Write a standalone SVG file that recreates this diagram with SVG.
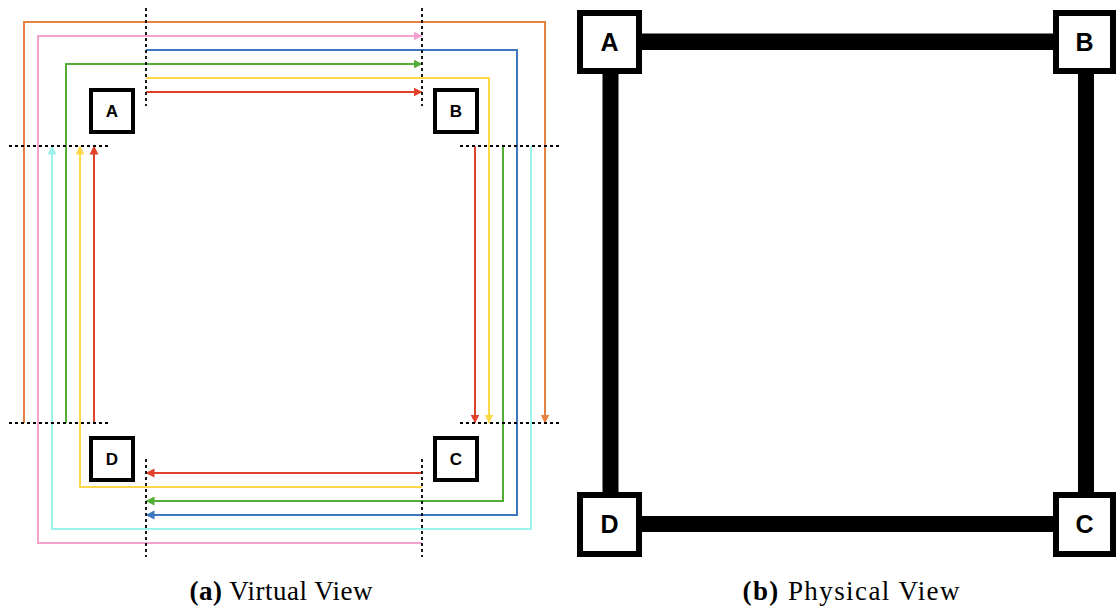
<svg xmlns="http://www.w3.org/2000/svg" width="1117" height="609" viewBox="0 0 1117 609">
  <style>
    .flow { fill: none; stroke-width: 2; }
    .cut { fill: none; stroke: #000; stroke-width: 1.8; stroke-dasharray: 3 3; }
    .vbox { fill: #fff; stroke: #000; stroke-width: 4; }
    .pbox { fill: #fff; stroke: #000; stroke-width: 6; }
    .vlbl { font-family: "Liberation Sans", Arial, sans-serif; font-weight: bold; font-size: 17px; text-anchor: middle; fill: #000; }
    .plbl { font-family: "Liberation Sans", Arial, sans-serif; font-weight: bold; font-size: 25px; text-anchor: middle; fill: #000; }
    .cap { font-family: "Liberation Serif", "Times New Roman", serif; font-size: 27px; text-anchor: middle; fill: #000; }
    .red { stroke: #E0412B; }
    .yel { stroke: #FDD94A; }
    .grn { stroke: #53AE36; }
    .blu { stroke: #3C77BD; }
    .cyn { stroke: #9CF4EA; }
    .org { stroke: #E7813F; }
    .pnk { stroke: #F3A1CE; }
  </style>
  <defs>
    <marker id="ah-red" markerUnits="userSpaceOnUse" markerWidth="10" markerHeight="10" refX="8.5" refY="4.5" orient="auto"><path d="M0,0 L9,4.5 L0,9 Z" fill="#E0412B"/></marker>
    <marker id="ah-yel" markerUnits="userSpaceOnUse" markerWidth="10" markerHeight="10" refX="8.5" refY="4.5" orient="auto"><path d="M0,0 L9,4.5 L0,9 Z" fill="#FDD94A"/></marker>
    <marker id="ah-grn" markerUnits="userSpaceOnUse" markerWidth="10" markerHeight="10" refX="8.5" refY="4.5" orient="auto"><path d="M0,0 L9,4.5 L0,9 Z" fill="#53AE36"/></marker>
    <marker id="ah-blu" markerUnits="userSpaceOnUse" markerWidth="10" markerHeight="10" refX="8.5" refY="4.5" orient="auto"><path d="M0,0 L9,4.5 L0,9 Z" fill="#3C77BD"/></marker>
    <marker id="ah-cyn" markerUnits="userSpaceOnUse" markerWidth="10" markerHeight="10" refX="8.5" refY="4.5" orient="auto"><path d="M0,0 L9,4.5 L0,9 Z" fill="#9CF4EA"/></marker>
    <marker id="ah-org" markerUnits="userSpaceOnUse" markerWidth="10" markerHeight="10" refX="8.5" refY="4.5" orient="auto"><path d="M0,0 L9,4.5 L0,9 Z" fill="#E7813F"/></marker>
    <marker id="ah-pnk" markerUnits="userSpaceOnUse" markerWidth="10" markerHeight="10" refX="8.5" refY="4.5" orient="auto"><path d="M0,0 L9,4.5 L0,9 Z" fill="#F3A1CE"/></marker>
  </defs>

  <rect width="1117" height="609" fill="#fff"/>

  <!-- (a) virtual view: routed flows between the four nodes -->
  <g id="connectors">
    <path class="flow red" d="M146,92 H422" marker-end="url(#ah-red)"/>
    <path class="flow red" d="M475,146 V423" marker-end="url(#ah-red)"/>
    <path class="flow red" d="M422,473 H146" marker-end="url(#ah-red)"/>
    <path class="flow red" d="M94,423 V146" marker-end="url(#ah-red)"/>

    <path class="flow yel" d="M146,78 H489 V423" marker-end="url(#ah-yel)"/>
    <path class="flow yel" d="M422,487 H80 V146" marker-end="url(#ah-yel)"/>

    <path class="flow grn" d="M66,423 V64 H422" marker-end="url(#ah-grn)"/>
    <path class="flow grn" d="M503,146 V501 H146" marker-end="url(#ah-grn)"/>

    <path class="flow blu" d="M146,50 H517 V515 H146" marker-end="url(#ah-blu)"/>

    <path class="flow cyn" d="M531,146 V529 H52 V146" marker-end="url(#ah-cyn)"/>

    <path class="flow org" d="M24,423 V22 H545 V423" marker-end="url(#ah-org)"/>

    <path class="flow pnk" d="M422,543 H38 V36 H422" marker-end="url(#ah-pnk)"/>

    <!-- cut lines marking where each flow leaves / enters a node -->
    <path class="cut" d="M146,8 V106 M422,8 V106 M146,459 V557 M422,459 V557"/>
    <path class="cut" d="M9,146 H108 M460,146 H559 M9,423 H108 M460,423 H559"/>
  </g>

  <g id="vA"><rect class="vbox" x="91" y="90" width="42" height="42"/><text class="vlbl" x="112" y="117">A</text></g>
  <g id="vB"><rect class="vbox" x="435" y="90" width="42" height="42"/><text class="vlbl" x="456" y="117">B</text></g>
  <g id="vC"><rect class="vbox" x="435" y="438" width="42" height="42"/><text class="vlbl" x="456" y="465">C</text></g>
  <g id="vD"><rect class="vbox" x="91" y="438" width="42" height="42"/><text class="vlbl" x="112" y="465">D</text></g>

  <!-- (b) physical view: ring of thick links -->
  <g id="links" fill="#000">
    <rect x="640" y="33.5" width="415" height="16.5"/>
    <rect x="640" y="516" width="415" height="16"/>
    <rect x="602.5" y="72" width="16" height="422"/>
    <rect x="1078" y="72" width="16" height="422"/>
  </g>

  <g id="pA"><rect class="pbox" x="580" y="13" width="59" height="58"/><text class="plbl" x="609.5" y="51">A</text></g>
  <g id="pB"><rect class="pbox" x="1056" y="13" width="57" height="58"/><text class="plbl" x="1084.5" y="51">B</text></g>
  <g id="pC"><rect class="pbox" x="1056" y="495" width="57" height="59"/><text class="plbl" x="1084.5" y="533">C</text></g>
  <g id="pD"><rect class="pbox" x="580" y="495" width="59" height="59"/><text class="plbl" x="609.5" y="533">D</text></g>

  <!-- captions -->
  <text class="cap" x="281" y="600" textLength="183" lengthAdjust="spacing"><tspan font-weight="bold">(a)</tspan> Virtual View</text>
  <text class="cap" x="851" y="600" textLength="217" lengthAdjust="spacing"><tspan font-weight="bold">(b)</tspan> Physical View</text>
</svg>
